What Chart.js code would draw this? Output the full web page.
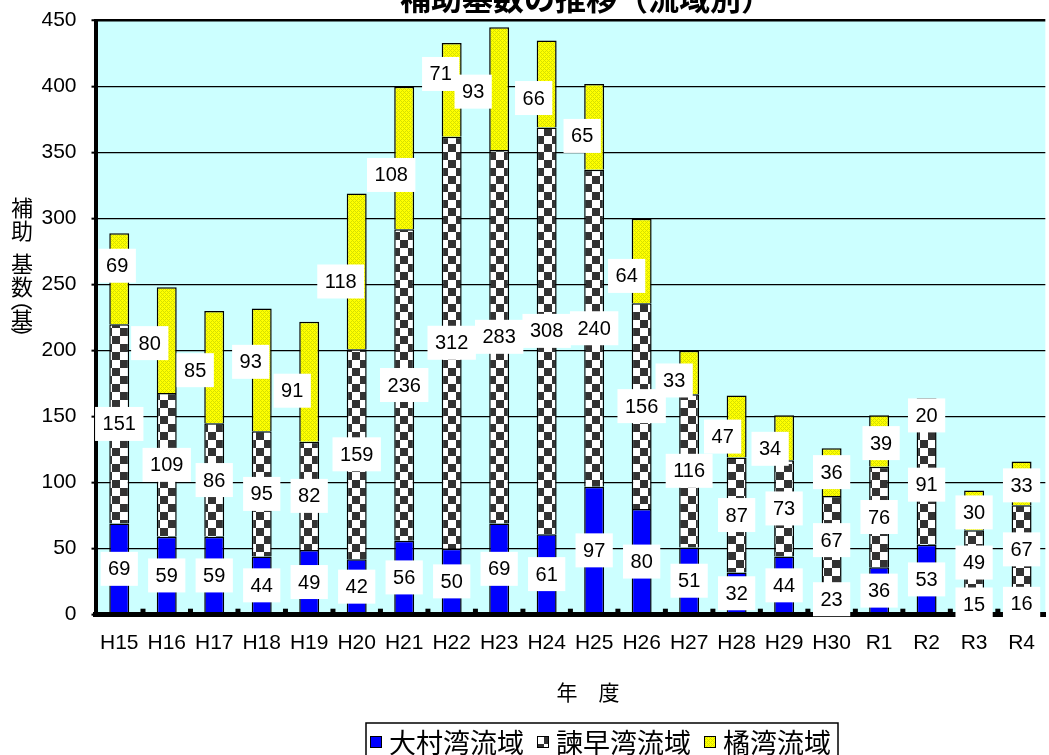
<!DOCTYPE html>
<html>
<head>
<meta charset="utf-8">
<title>補助基数の推移（流域別）</title>
<script src="https://cdn.jsdelivr.net/npm/chart.js@4.4.1/dist/chart.umd.min.js"></script>
<style>
  html, body { margin: 0; padding: 0; background: #fff; overflow: hidden; }
</style>
</head>
<body>
<canvas id="chart_kisu" width="1051" height="755"></canvas>
<script>
  var labels = ['H15','H16','H17','H18','H19','H20','H21','H22','H23','H24','H25','H26','H27','H28','H29','H30','R1','R2','R3','R4'];
  var omuraBay     = [69, 59, 59, 44, 49, 42, 56, 50, 69, 61, 97, 80, 51, 32, 44, 23, 36, 53, 15, 16];
  var isahayaBay   = [151, 109, 86, 95, 82, 159, 236, 312, 283, 308, 240, 156, 116, 87, 73, 67, 76, 91, 49, 67];
  var tachibanaBay = [69, 80, 85, 93, 91, 118, 108, 71, 93, 66, 65, 64, 33, 47, 34, 36, 39, 20, 30, 33];
  var seriesNames  = ['大村湾流域', '諫早湾流域', '橘湾流域'];
  var yMax = 450, yStep = 50;
  var chartTitle = '補助基数の推移（流域別）';
  var yTitleChars = ['補', '助', '基', '数', '（', '基', '）'];
  var xTitle = '年　度';

  var canvas = document.getElementById('chart_kisu');
  var ctx = canvas.getContext('2d');

  // checker fill for 諫早湾
  function checkerPattern() {
    var c = document.createElement('canvas');
    c.width = 16; c.height = 16;
    var g = c.getContext('2d');
    g.fillStyle = '#ffffff'; g.fillRect(0, 0, 16, 16);
    g.fillStyle = '#333333'; g.fillRect(0, 0, 8, 8); g.fillRect(8, 8, 8, 8);
    return ctx.createPattern(c, 'repeat');
  }
  // yellow with fine olive lattice for 橘湾
  function yellowPattern() {
    var c = document.createElement('canvas');
    c.width = 4; c.height = 4;
    var g = c.getContext('2d');
    g.fillStyle = '#ffff00'; g.fillRect(0, 0, 4, 4);
    g.fillStyle = '#d6e000';
    for (var x = 0; x < 4; x++) {
      for (var y = 0; y < 4; y++) {
        if ((x + y) % 4 == 0 || (x - y + 4) % 4 == 0) g.fillRect(x, y, 1, 1);
      }
    }
    return ctx.createPattern(c, 'repeat');
  }

  var plotBg = {
    id: 'plotBg',
    beforeDraw: function(chart) {
      var a = chart.chartArea, c = chart.ctx;
      c.save();
      c.fillStyle = '#ccffff';
      c.fillRect(a.left, a.top, a.right - a.left, a.bottom - a.top);
      c.restore();
    }
  };

  var decorations = {
    id: 'decorations',
    afterDraw: function(chart, args, opts) {
      var c = chart.ctx, a = chart.chartArea, xs = chart.scales.x;
      c.save();

      // small inner tick marks on the category axis
      c.fillStyle = '#000';
      for (var i = 1; i < labels.length; i++) {
        var bx = xs.getPixelForValue(i - 0.5);
        c.fillRect(bx - 2.5, a.bottom - 6, 5, 6);
      }

      // value labels in white boxes
      c.font = '20px "Liberation Sans", Arial, sans-serif';
      c.textAlign = 'center';
      c.textBaseline = 'middle';
      chart.data.datasets.forEach(function(ds, di) {
        var meta = chart.getDatasetMeta(di);
        var shift = opts.shift[di] || [];
        meta.data.forEach(function(bar, i) {
          var p = bar.getProps(['x', 'y', 'base'], true);
          var s = shift[i] || [0, 0];
          var cx = p.x + s[0];
          var cy = (p.y + p.base) / 2 + s[1];
          var txt = String(ds.data[i]);
          var w = c.measureText(txt).width + 15, h = 34;
          c.fillStyle = '#fff';
          c.fillRect(cx - w / 2, cy - h / 2, w, h);
          c.fillStyle = '#000';
          c.fillText(txt, cx, cy + 1);
        });
      });

      // chart title (cut by top edge as in the source)
      c.font = 'bold 31px "Noto Sans CJK JP", sans-serif';
      c.textBaseline = 'alphabetic';
      c.fillText(chartTitle, 586, 10);

      // vertical y title, brackets turned for vertical writing
      c.font = '22px "Noto Sans CJK JP", sans-serif';
      c.textBaseline = 'middle';
      var ty = [208, 231, 264, 287, 300, 320, 338];
      yTitleChars.forEach(function(ch, k) {
        if (ch == '（' || ch == '）') {
          c.save();
          c.translate(22, ty[k]);
          c.rotate(Math.PI / 2);
          c.fillText(ch, 0, 0);
          c.restore();
        } else {
          c.fillText(ch, 22, ty[k]);
        }
      });

      // x title
      c.font = '21px "Noto Sans CJK JP", sans-serif';
      c.fillText(xTitle, 588, 692);

      // legend
      c.font = '27px "Noto Sans CJK JP", sans-serif';
      c.textAlign = 'left';
      c.strokeStyle = '#000';
      c.lineWidth = 1.5;
      c.strokeRect(366, 723, 472, 45);
      var lx = 370;
      chart.data.datasets.forEach(function(ds) {
        c.fillStyle = ds.backgroundColor;
        c.fillRect(lx, 736, 12, 12);
        c.lineWidth = 1;
        c.strokeRect(lx + 0.5, 736.5, 11, 11);
        c.fillStyle = '#000';
        c.fillText(ds.label, lx + 19, 743);
        lx += 19 + c.measureText(ds.label).width + 13;
      });
      c.restore();
    }
  };

  var chart = new Chart(ctx, {
    type: 'bar',
    data: {
      labels: labels,
      datasets: [
        {label: seriesNames[0], data: omuraBay, backgroundColor: '#0000ff'},
        {label: seriesNames[1], data: isahayaBay, backgroundColor: checkerPattern()},
        {label: seriesNames[2], data: tachibanaBay, backgroundColor: yellowPattern()}
      ]
    },
    options: {
      responsive: false,
      animation: false,
      devicePixelRatio: 1,
      layout: {padding: {top: 0, left: 0, right: 0, bottom: 0}},
      datasets: {
        bar: {borderColor: '#000', borderWidth: 1.5, categoryPercentage: 1, barPercentage: 0.42}
      },
      plugins: {
        legend: {display: false},
        tooltip: {enabled: false},
        decorations: {
          // hand placed offsets of the 橘湾 labels, as in the source chart
          shift: [[], [], [[-2,-13],[-17,3],[-19,3],[-11,-8],[-17,9],[-16,10],[-13,17],[-11,-16],[-26,3],[-13,14],
                           [-12,9],[-15,15],[-15,8],[-14,10],[-14,11],[0,0],[2,2],[0,4],[0,2],[0,2]]]
        }
      },
      scales: {
        x: {
          stacked: true,
          grid: {display: true, drawOnChartArea: false, drawTicks: false},
          border: {color: '#000', width: 5, z: 1},
          ticks: {color: '#000', font: {family: '"Liberation Sans", Arial, sans-serif', size: 21}, padding: 16, maxRotation: 0, autoSkip: false},
          afterFit: function(s) { s.height = 140.3; }
        },
        y: {
          stacked: true,
          min: 0,
          max: yMax,
          grid: {
            color: '#000',
            lineWidth: function(c) { return c.tick && c.tick.value == yMax ? 2.5 : 1.3; },
            tickLength: 4, tickColor: '#000', tickWidth: 2
          },
          border: {color: '#000', width: 4},
          // small lineHeight so the top label does not push the plot down
          ticks: {stepSize: yStep, color: '#000', font: {family: '"Liberation Sans", Arial, sans-serif', size: 21, lineHeight: 0.54}, padding: 15},
          afterFit: function(s) { s.width = 95.5; }
        }
      }
    },
    plugins: [plotBg, decorations]
  });
</script>
</body>
</html>
